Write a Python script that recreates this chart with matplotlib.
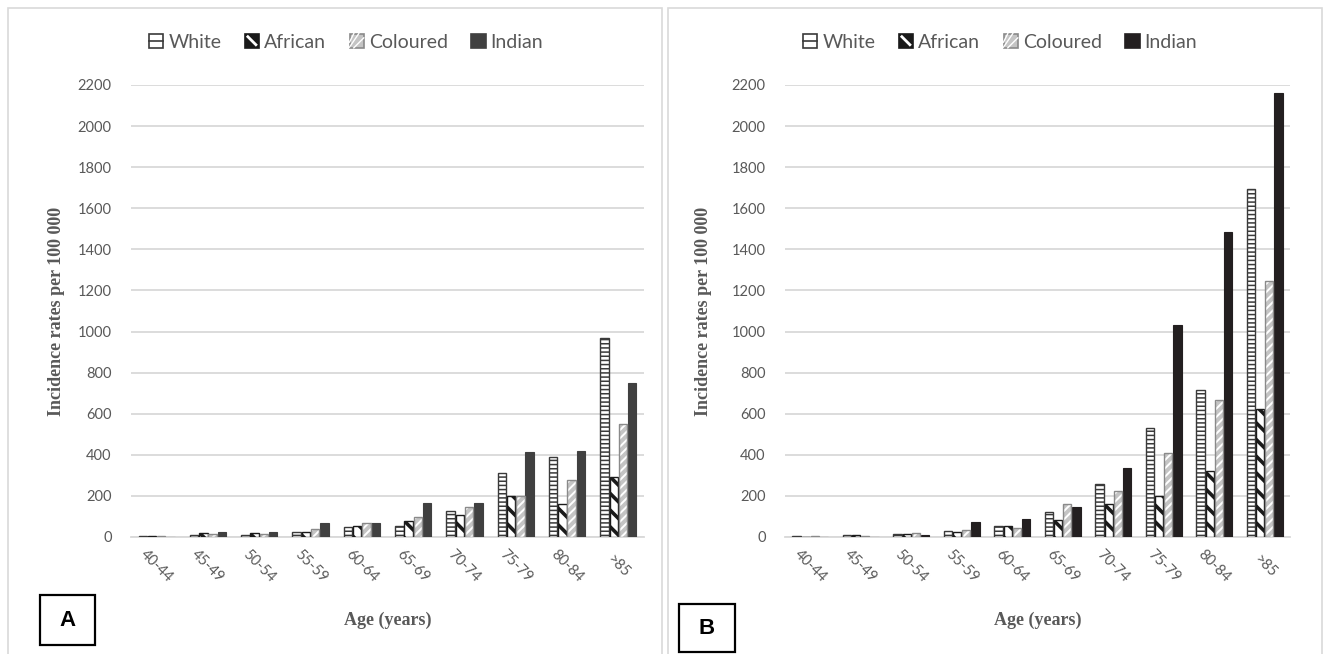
import matplotlib
matplotlib.use("Agg")
import matplotlib.pyplot as plt
from matplotlib.patches import Rectangle, Patch
from matplotlib.lines import Line2D
from matplotlib.legend_handler import HandlerBase
import numpy as np

# ---- data -------------------------------------------------------------
age_groups = ["40-44", "45-49", "50-54", "55-59", "60-64",
              "65-69", "70-74", "75-79", "80-84", ">85"]
groups = ["White", "African", "Coloured", "Indian"]

# Panel A
a_white    = [5, 8, 8, 26, 48, 55, 127, 310, 388, 967]
a_african  = [5, 18, 20, 26, 55, 78, 107, 201, 161, 293]
a_coloured = [3, 14, 13, 37, 68, 96, 148, 198, 276, 551]
a_indian   = [2, 23, 25, 67, 70, 164, 164, 416, 418, 748]

# Panel B
b_white    = [5, 8, 15, 30, 55, 123, 258, 532, 716, 1695]
b_african  = [2, 8, 15, 22, 55, 83, 159, 201, 321, 625]
b_coloured = [5, 6, 20, 33, 42, 160, 222, 407, 667, 1245]
b_indian   = [1, 2, 12, 72, 86, 148, 334, 1033, 1485, 2160]

y_ticks = list(range(0, 2201, 200))

# ---- styling ----------------------------------------------------------
W, H = 1327, 654
TXT = "#595959"
GRID = "#d9d9d9"
TICK_FONT = "Lato"
SERIF = "Liberation Serif"


def px(x0, y0, w, h):
    """Pixel box (from top-left) -> figure fraction rect."""
    return [x0 / W, 1 - (y0 + h) / H, w / W, h / H]


def set_hlw(bars, lw):
    for b in bars:
        if hasattr(b, "set_hatch_linewidth"):
            b.set_hatch_linewidth(lw)


def draw_panel(ax, white, african, coloured, indian, indian_color):
    x = np.arange(len(age_groups))
    step, w = 0.18, 0.165
    offs = np.array([-1.5, -0.5, 0.5, 1.5]) * step

    with plt.rc_context({"hatch.linewidth": 1.1}):
        bw = ax.bar(x + offs[0], white, w, facecolor="white",
                    edgecolor="#3a3a3a", hatch="----", linewidth=1.0, zorder=3)
    set_hlw(bw, 1.1)

    with plt.rc_context({"hatch.linewidth": 2.6}):
        ba = ax.bar(x + offs[1], african, w, facecolor="white",
                    edgecolor="#1a1a1a", hatch="\\\\", linewidth=1.0, zorder=3)
    set_hlw(ba, 2.6)

    with plt.rc_context({"hatch.linewidth": 1.4}):
        bc = ax.bar(x + offs[2], coloured, w, facecolor="#c4c4c4",
                    edgecolor="white", hatch="////", linewidth=0, zorder=3)
    set_hlw(bc, 1.4)
    ax.bar(x + offs[2], coloured, w, facecolor="none",
           edgecolor="#8a8a8a", linewidth=1.0, zorder=4)

    ax.bar(x + offs[3], indian, w, facecolor=indian_color,
           edgecolor=indian_color, linewidth=0.8, zorder=3)

    ax.set_xlim(-0.5, len(age_groups) - 0.5)
    ax.set_ylim(0, 2200)
    ax.set_yticks(y_ticks)
    ax.set_yticklabels([str(v) for v in y_ticks], fontfamily=TICK_FONT,
                       fontsize=10.5, color=TXT)
    ax.yaxis.grid(True, color=GRID, linewidth=1.3, zorder=0)
    ax.set_axisbelow(True)
    for s in ["top", "right", "left"]:
        ax.spines[s].set_visible(False)
    ax.spines["bottom"].set_color(GRID)
    ax.spines["bottom"].set_linewidth(1.3)
    ax.tick_params(axis="y", length=0, pad=14)
    ax.tick_params(axis="x", length=0, pad=21)
    ax.set_xticks(x)
    ax.set_xticklabels(age_groups, rotation=-45, ha="center", va="center",
                       rotation_mode="anchor", fontfamily=TICK_FONT,
                       fontsize=10.5, color=TXT)
    ax.set_ylabel("Incidence rates per 100 000", fontfamily=SERIF,
                  fontweight="bold", fontsize=13, color=TXT)
    ax.text(0.5, -0.184, "Age (years)", transform=ax.transAxes,
            ha="center", va="center", fontfamily=SERIF, fontweight="bold",
            fontsize=13, color=TXT)


class SwatchHandler(HandlerBase):
    """Small square legend key with an optional single stroke inside."""

    def __init__(self, face, edge, stroke=None, stroke_color="white", stroke_lw=1.2):
        super().__init__()
        self.face, self.edge = face, edge
        self.stroke, self.stroke_color, self.stroke_lw = stroke, stroke_color, stroke_lw

    def create_artists(self, legend, orig_handle, xdescent, ydescent,
                       width, height, fontsize, trans):
        s = min(width, height)
        x0 = -xdescent + (width - s) / 2
        y0 = -ydescent + (height - s) / 2
        arts = [Rectangle((x0, y0), s, s, facecolor=self.face,
                          edgecolor=self.edge, linewidth=1.2, transform=trans)]
        if self.stroke == "h":
            arts.append(Line2D([x0, x0 + s], [y0 + s / 2] * 2,
                               color=self.stroke_color, lw=self.stroke_lw,
                               transform=trans))
        elif self.stroke == "back":
            arts.append(Line2D([x0 + s * 0.15, x0 + s * 0.85],
                               [y0 + s * 0.85, y0 + s * 0.15],
                               color=self.stroke_color, lw=self.stroke_lw,
                               solid_capstyle="butt", transform=trans))
        elif self.stroke == "fwd":
            for k in (0.3, 0.65, 1.0):
                arts.append(Line2D([x0 + s * max(0, k - 0.7), x0 + s * min(1, k)],
                                   [y0 + s * max(0, 0.7 - k), y0 + s * min(1, 1.7 - k)],
                                   color=self.stroke_color, lw=self.stroke_lw,
                                   transform=trans))
        return arts


def legend_parts(indian_color):
    handles = [Patch(label=g) for g in groups]
    hmap = {
        handles[0]: SwatchHandler("white", "#3a3a3a", "h", "#3a3a3a", 1.2),
        handles[1]: SwatchHandler("#1a1a1a", "#1a1a1a", "back", "white", 2.0),
        handles[2]: SwatchHandler("#c4c4c4", "#8a8a8a", "fwd", "white", 1.0),
        handles[3]: SwatchHandler(indian_color, indian_color),
    }
    return handles, hmap


fig = plt.figure(figsize=(W / 100, H / 100), dpi=100)
fig.patch.set_facecolor("white")

# panel frames
for x0 in (8, 668):
    fig.patches.append(Rectangle((x0 / W, -0.01), 654 / W, (H - 8) / H + 0.01,
                                 transform=fig.transFigure, fill=False,
                                 edgecolor="#d9d9d9", linewidth=1.2))

axA = fig.add_axes(px(131, 85, 513, 452))
draw_panel(axA, a_white, a_african, a_coloured, a_indian, "#404040")
axA.yaxis.set_label_coords(-0.129, 0.5)

axB = fig.add_axes(px(785, 85, 505, 452))
draw_panel(axB, b_white, b_african, b_coloured, b_indian, "#231f20")
axB.yaxis.set_label_coords(-0.145, 0.5)

# legends
for cx, col in ((346, "#404040"), (1000, "#231f20")):
    handles, hmap = legend_parts(col)
    leg = fig.legend(handles=handles, handler_map=hmap, loc="center", ncol=4,
                     bbox_to_anchor=(cx / W, 1 - 42 / H), frameon=False,
                     handlelength=0.75, handleheight=0.75, handletextpad=0.25,
                     columnspacing=1.2,
                     prop={"family": TICK_FONT, "size": 14})
    for t in leg.get_texts():
        t.set_color(TXT)

# panel letters
for (x0, y0, w, h, letter) in ((40, 595, 55, 50, "A"), (679, 604, 56, 48, "B")):
    fig.patches.append(Rectangle((x0 / W, 1 - (y0 + h) / H), w / W, h / H,
                                 transform=fig.transFigure, facecolor="white",
                                 edgecolor="black", linewidth=1.6))
    fig.text((x0 + w / 2) / W, 1 - (y0 + h / 2) / H, letter,
             ha="center", va="center", fontfamily="Liberation Sans",
             fontweight="bold", fontsize=16, color="black")

fig.savefig("out.png", dpi=100)
